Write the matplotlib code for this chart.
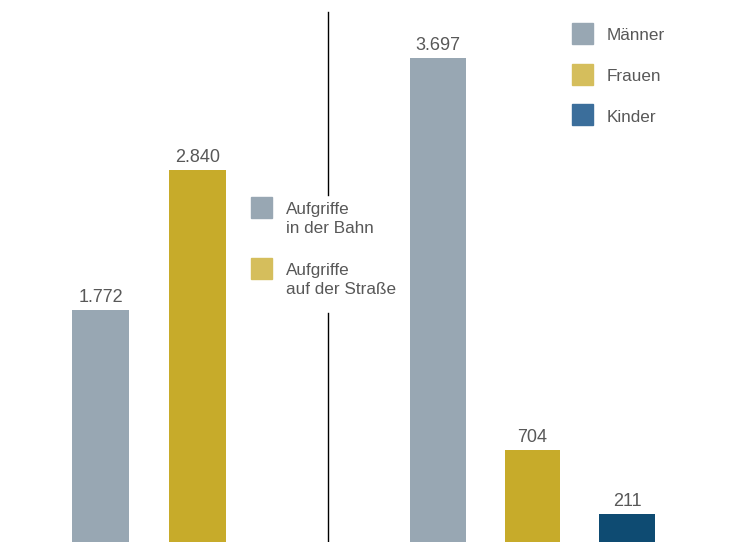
import matplotlib.pyplot as plt
from matplotlib.patches import Rectangle
from matplotlib.lines import Line2D

plt.rcParams['font.family'] = ['Liberation Sans', 'DejaVu Sans']

# Aufgriffe nach Ort
ort_labels = ["Aufgriffe\nin der Bahn", "Aufgriffe\nauf der Straße"]
ort_values = [1772, 2840]

# Aufgriffe nach Personengruppe
gruppe_labels = ["Männer", "Frauen", "Kinder"]
gruppe_values = [3697, 704, 211]

bar_grey = "#98a7b3"
bar_gold = "#c7ab2a"
bar_blue = "#0e4b72"
leg_grey = "#98a7b3"
leg_gold = "#d5be5c"
leg_blue = "#3b6e9b"
text_col = "#585858"

def fmt(v):
    return f"{v:,}".replace(",", ".")

W, H = 750, 542
fig = plt.figure(figsize=(W / 100, H / 100), dpi=100)
ymax = 3697 * H / 484

def value_labels(ax, bars, values):
    for b, v in zip(bars, values):
        ax.annotate(fmt(v), (b.get_x() + b.get_width() / 2, v), xytext=(0, 6),
                    textcoords="offset points", ha="center", va="baseline",
                    fontsize=13, color=text_col)

# left panel
ax1 = fig.add_axes([0, 0, 328 / W, 1])
ax1.set_xlim(-100.5 / 97, (328 - 100.5) / 97)
ax1.set_ylim(0, ymax)
bars = ax1.bar(range(len(ort_values)), ort_values, width=0.59,
               color=[bar_grey, bar_gold])
value_labels(ax1, bars, ort_values)
ax1.axis("off")

# right panel
ax2 = fig.add_axes([328 / W, 0, (W - 328) / W, 1])
ax2.set_xlim((328 - 438) / 94.5, (W - 438) / 94.5)
ax2.set_ylim(0, ymax)
bars = ax2.bar(range(len(gruppe_values)), gruppe_values, width=0.59,
               color=[bar_grey, bar_gold, bar_blue])
value_labels(ax2, bars, gruppe_values)
ax2.axis("off")

# divider, interrupted by the legend in the middle
for y0, y1 in [(12, 195), (313, 542)]:
    fig.add_artist(Line2D([328 / W, 328 / W], [1 - y0 / H, 1 - y1 / H],
                          color="black", lw=1))

# legends drawn as squares + text in pixel coordinates
def legend_item(x, y, color, label, dy_text):
    fig.add_artist(Rectangle((x / W, 1 - (y + 21) / H), 21 / W, 21 / H,
                             color=color, transform=fig.transFigure))
    fig.text((x + 35) / W, 1 - (y + dy_text) / H, label, ha="left",
             va="center", fontsize=12.3, color=text_col, linespacing=1.3)

for i, (lab, c) in enumerate(zip(ort_labels, [leg_grey, leg_gold])):
    legend_item(251, 197 + i * 61, c, lab, 22)

for i, (lab, c) in enumerate(zip(gruppe_labels, [leg_grey, leg_gold, leg_blue])):
    legend_item(572, 23 + i * 40.5, c, lab, 13)

fig.savefig("out.png", dpi=100)
